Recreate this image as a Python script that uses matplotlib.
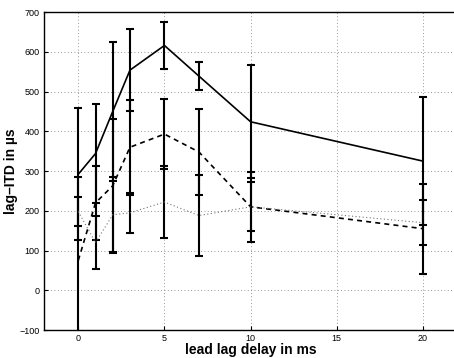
import matplotlib
matplotlib.use("Agg")
import matplotlib.pyplot as plt

plt.rcParams['font.family'] = ['Liberation Sans', 'DejaVu Sans']

# lead lag delay (ms)
delay = [0, 1, 2, 3, 5, 7, 10, 20]

# three conditions: mean lag-ITD and error (µs)
itd_solid = [292, 344, 450, 554, 616, 539, 424, 325]
err_solid = [166, 124, 174, 103, 60, 36, 142, 162]

itd_dashed = [75, 220, 263, 360, 393, 348, 210, 155]
err_dashed = [209, 93, 168, 120, 89, 108, 88, 113]

itd_dotted = [198, 120, 190, 195, 222, 188, 210, 170]
err_dotted = [36, 66, 94, 50, 91, 102, 62, 57]

x_ticks = [0, 5, 10, 15, 20]
y_ticks = [-100, 0, 100, 200, 300, 400, 500, 600, 700]

fig = plt.figure(figsize=(4.54, 3.58), dpi=100)
# right spine sits just past the picture edge (the original is cropped)
ax = fig.add_axes([0.0965, 0.0782, 0.911, 0.888])

bar_kw = dict(ecolor="black", elinewidth=1.5, capsize=3, capthick=1.5)

ax.errorbar(delay, itd_solid, yerr=err_solid, color="black", lw=1.2,
            linestyle="-", **bar_kw)
ax.errorbar(delay, itd_dashed, yerr=err_dashed, color="black", lw=1.2,
            linestyle=(0, (3, 2.5)), **bar_kw)
ax.errorbar(delay, itd_dotted, yerr=err_dotted, color="0.45", lw=0.8,
            linestyle=(0, (1, 2.2)), **bar_kw)

ax.set_xlim(-2, 22)
ax.set_ylim(-100, 700)
ax.set_xticks(x_ticks)
ax.set_yticks(y_ticks)
ax.grid(True, linestyle=(0, (1, 3)), color="0.45", linewidth=0.6)
ax.set_axisbelow(True)

ax.tick_params(direction="in", length=3, width=0.8, labelsize=6.5, pad=3)
for sp in ax.spines.values():
    sp.set_linewidth(1.0)

ax.set_xlabel("lead lag delay in ms", fontsize=10, fontweight="bold", labelpad=0)
ax.set_ylabel("lag\u2013ITD in \u00b5s", fontsize=10, fontweight="bold", labelpad=1)

fig.savefig("out.png", dpi=100)
